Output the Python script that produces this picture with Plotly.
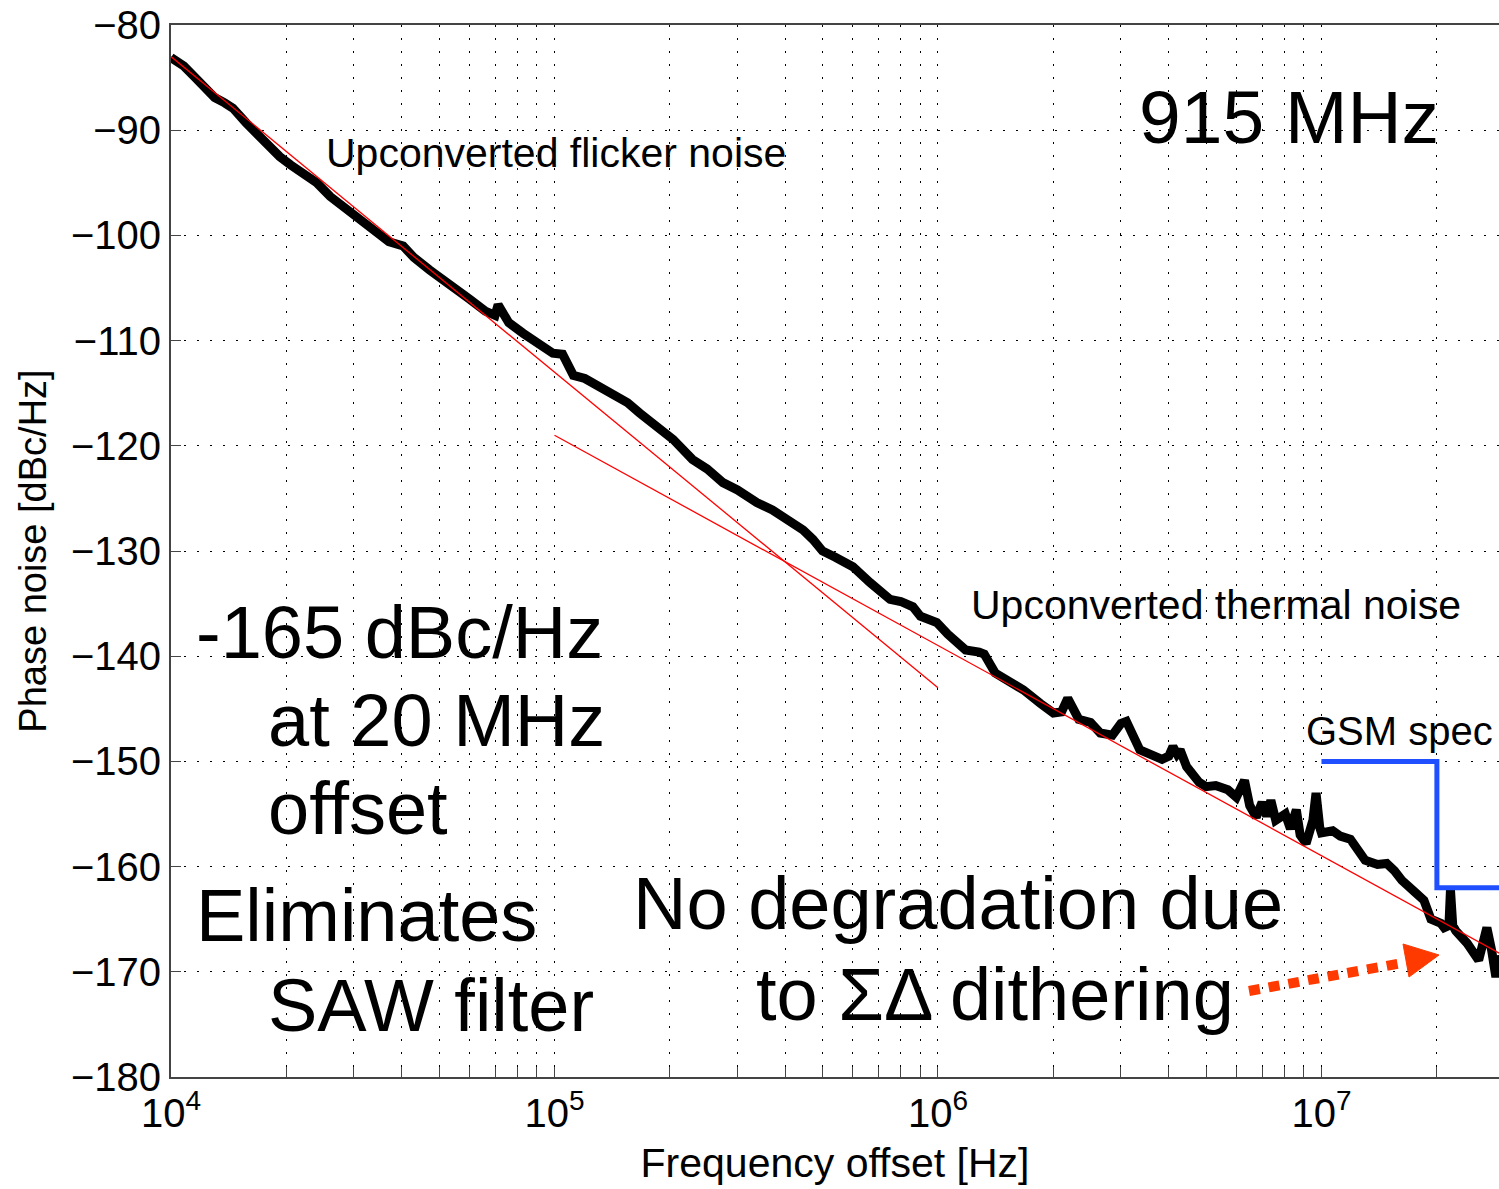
import plotly.graph_objects as go

freq = [1.00e4, 1.08e4, 1.15e4, 1.22e4, 1.30e4, 1.38e4, 1.45e4, 1.57e4, 1.70e4, 1.80e4,
        1.92e4, 2.05e4, 2.20e4, 2.40e4, 2.60e4, 2.87e4, 3.10e4, 3.44e4, 3.70e4, 4.03e4,
        4.30e4, 4.73e4, 5.20e4, 5.60e4, 6.03e4, 6.60e4, 7.00e4, 7.13e4, 7.40e4, 7.60e4,
        8.28e4, 9.00e4, 9.90e4, 1.05e5, 1.12e5, 1.20e5, 1.26e5, 1.35e5, 1.46e5, 1.55e5,
        1.67e5, 1.80e5, 2.04e5, 2.29e5, 2.50e5, 2.75e5, 3.00e5, 3.37e5, 3.70e5, 4.04e5,
        4.45e5, 4.72e5, 5.00e5, 5.40e5, 6.00e5, 6.65e5, 7.50e5, 8.00e5, 8.60e5, 9.00e5,
        9.93e5, 1.06e6, 1.12e6, 1.18e6, 1.28e6, 1.32e6, 1.41e6, 1.55e6, 1.67e6, 1.85e6,
        2.00e6, 2.10e6, 2.18e6, 2.33e6, 2.50e6, 2.65e6, 2.85e6, 3.00e6, 3.10e6, 3.36e6,
        3.60e6, 3.84e6, 4.00e6, 4.10e6, 4.20e6, 4.28e6, 4.45e6, 4.80e6, 5.00e6, 5.30e6,
        5.70e6, 6.00e6, 6.30e6, 6.50e6, 6.76e6, 7.00e6, 7.20e6, 7.38e6, 7.60e6, 8.05e6,
        8.30e6, 8.60e6, 8.80e6, 9.12e6, 9.50e6, 9.68e6, 9.90e6, 1.00e7, 1.07e7, 1.12e7,
        1.19e7, 1.25e7, 1.30e7, 1.40e7, 1.48e7, 1.55e7, 1.62e7, 1.75e7, 1.85e7, 1.93e7,
        2.05e7, 2.09e7, 2.15e7, 2.17e7, 2.20e7, 2.24e7, 2.40e7, 2.57e7, 2.65e7, 2.70e7,
        2.78e7, 2.85e7, 2.90e7, 3.00e7]
pn = [-83.1, -83.9, -84.9, -85.8, -86.9, -87.4, -87.9, -89.3, -90.6, -91.6,
      -92.5, -93.3, -94.0, -95.0, -96.3, -97.5, -98.6, -99.8, -100.6, -101.0,
      -102.1, -103.3, -104.4, -105.0, -106.1, -107.2, -107.6, -106.6, -107.4, -108.3,
      -109.3, -110.2, -111.2, -111.3, -113.3, -113.6, -114.0, -114.7, -115.3, -115.9,
      -116.9, -117.8, -119.4, -121.3, -122.2, -123.5, -124.2, -125.4, -126.1, -127.0,
      -128.0, -128.9, -130.0, -130.6, -131.5, -133.0, -134.6, -134.8, -135.3, -136.2,
      -136.8, -137.9, -138.7, -139.4, -139.6, -139.8, -141.6, -142.4, -143.2, -144.5,
      -145.4, -145.3, -144.0, -146.0, -146.3, -147.3, -147.5, -146.4, -146.2, -148.9,
      -149.4, -149.8, -149.5, -148.6, -149.3, -148.9, -150.5, -152.0, -152.4, -152.3,
      -152.7, -153.4, -151.8, -154.2, -155.3, -153.9, -155.2, -153.7, -155.6, -155.0,
      -156.4, -154.6, -157.0, -157.8, -155.6, -153.0, -156.3, -156.8, -156.6, -157.1,
      -157.4, -158.5, -159.4, -159.8, -159.7, -160.4, -161.3, -162.4, -163.2, -165.0,
      -165.4, -165.8, -165.6, -162.2, -165.6, -166.1, -167.3, -168.9, -167.0, -165.8,
      -168.0, -170.5, -168.5, -170.0]

# asymptotes
flicker_f = [1e4, 1e6]
flicker_pn = [-83, -143]
thermal_f = [1e5, 3e7]
thermal_pn = [-119, -168.5]

# GSM spec mask
gsm_f = [1e7, 2e7, 2e7, 3e7]
gsm_pn = [-150, -150, -162, -162]

# ticks
xtick_vals = [m * 10 ** e for e in range(4, 8) for m in range(1, 10) if m * 10 ** e <= 3e7]
xtick_text = ["10<sup>%d</sup>" % len(str(int(v))[1:]) if str(int(v))[0] == "1" else "" for v in xtick_vals]
ytick_vals = list(range(-180, -79, 10))

W, H = 1499, 1189
L, R, T, B = 171, 1499, 25, 1077   # plot box in pixels


def px(x, y):
    return (x - L) / (R - L), (B - y) / (B - T)


fig = go.Figure()
fig.add_trace(go.Scatter(x=freq, y=pn, mode="lines", line=dict(color="black", width=9)))
fig.add_trace(go.Scatter(x=flicker_f, y=flicker_pn, mode="lines", line=dict(color="#ff0000", width=1.3)))
fig.add_trace(go.Scatter(x=thermal_f, y=thermal_pn, mode="lines", line=dict(color="#ff0000", width=1.3)))
fig.add_trace(go.Scatter(x=gsm_f, y=gsm_pn, mode="lines", line=dict(color="#1f4fff", width=5)))

font = "Liberation Sans, Arial, sans-serif"
texts = [
    ("915 MHz", 1138, 117, 75),
    ("Upconverted flicker noise", 325, 153, 41),
    ("Upconverted thermal noise", 970, 605, 41),
    ("GSM spec", 1305, 731, 40),
    ("-165 dBc/Hz", 195, 632, 74),
    ("at 20 MHz", 267, 720, 74),
    ("offset", 267, 808, 74),
    ("Eliminates", 195, 915, 74),
    ("SAW filter", 267, 1005, 74),
    ("No degradation due", 632, 903, 74),
    ("to ΣΔ dithering", 755, 995, 74),
]
for s, x, y, sz in texts:
    xp, yp = px(x, y)
    fig.add_annotation(x=xp, y=yp, xref="paper", yref="paper", text=s, showarrow=False,
                       xanchor="left", yanchor="middle", borderpad=0,
                       font=dict(size=sz, color="black", family=font))

# dotted arrow
ax0, ay0 = px(1249, 991)
ax1, ay1 = px(1402, 963)
fig.add_shape(type="line", xref="paper", yref="paper", x0=ax0, y0=ay0, x1=ax1, y1=ay1,
              line=dict(color="#ff3a00", width=10, dash="11px,9px"))
t1 = px(1439, 955)
t2 = px(1403, 944)
t3 = px(1409, 977)
fig.add_shape(type="path", xref="paper", yref="paper",
              path="M %f,%f L %f,%f L %f,%f Z" % (t1 + t2 + t3),
              fillcolor="#ff3a00", line=dict(color="#ff3a00", width=1))

grid = dict(showgrid=True, gridcolor="black", gridwidth=1.2, griddash="2px,11px",
            showline=True, linecolor="#444", linewidth=2, mirror=True, automargin=False,
            ticks="inside", ticklen=10, tickcolor="#444", zeroline=False,
            ticklabeloverflow="allow",
            tickfont=dict(size=40, color="black", family=font))

fig.update_layout(
    width=W, height=H,
    margin=dict(l=L, r=W - R, t=T, b=H - B, autoexpand=False),
    paper_bgcolor="white", plot_bgcolor="white",
    showlegend=False,
    xaxis=dict(type="log", range=[4, 7.463], tickvals=xtick_vals, ticktext=xtick_text,
               title=dict(text="Frequency offset [Hz]", font=dict(size=41, color="black", family=font), standoff=14),
               **grid),
    yaxis=dict(range=[-180, -80], tickvals=ytick_vals,
               title=dict(text="Phase noise [dBc/Hz]", font=dict(size=38, color="black", family=font), standoff=13),
               **grid),
)

# drop the default 8px body margin so the figure fills the window exactly
fig.write_html("out.html", config={"displayModeBar": False},
               post_script="document.body.style.margin='0';")
